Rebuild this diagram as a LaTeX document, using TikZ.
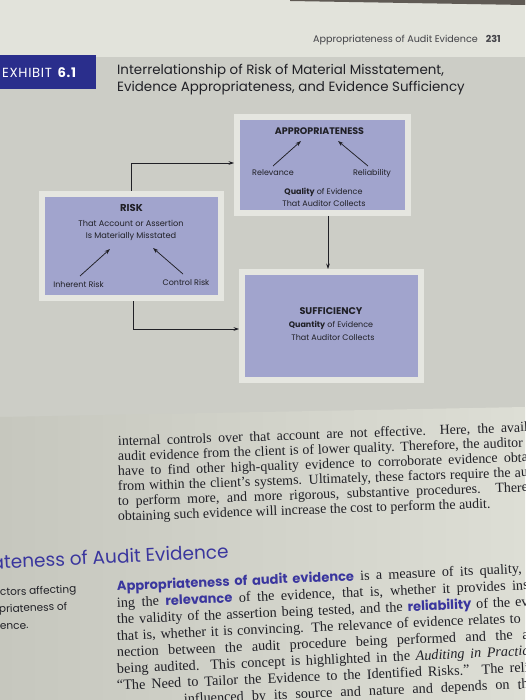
\documentclass[tikz,border=0pt]{standalone}
\usepackage{fontspec}
\setmainfont{Liberation Serif}
\newfontfamily\pop{Poppins}
\usetikzlibrary{arrows.meta,calc}
\definecolor{pagetop}{RGB}{226,227,219}
\definecolor{panelbg}{RGB}{204,205,198}
\definecolor{lowL}{RGB}{198,199,190}
\definecolor{lowR}{RGB}{221,222,213}
\definecolor{matc}{RGB}{229,230,224}
\definecolor{lav}{RGB}{161,164,205}
\definecolor{tabblue}{RGB}{42,46,140}
\definecolor{headblue}{RGB}{58,54,158}
\definecolor{ink}{RGB}{32,32,38}
\definecolor{shadowc}{RGB}{95,90,84}
\newcommand\bterm[1]{{\pop\bfseries\fontsize{13}{16}\selectfont\color{headblue}#1}}
\begin{document}
\begin{tikzpicture}[x=1pt,y=-1pt,
  box/.style={draw=matc,line width=6pt,fill=lav,inner sep=0pt,outer sep=3pt},
  lbl/.style={font=\pop\fontsize{8}{9.6}\selectfont,text=ink,inner sep=0pt},
  boxhead/.style={font=\pop\bfseries\fontsize{9.5}{11}\selectfont,text=ink,inner sep=0pt},
  conn/.style={draw=ink,line width=0.75pt,-{Stealth[length=5.5pt,width=3.8pt]}},
  bodyA/.style={font=\fontsize{13.9}{16}\selectfont,text=ink,anchor=base west,inner sep=0pt,rotate=2},
  bodyB/.style={font=\fontsize{14.2}{16}\selectfont,text=ink,anchor=base west,inner sep=0pt,rotate=2.5},
  margin/.style={font=\pop\fontsize{10.5}{12}\selectfont,text=ink,anchor=base west,inner sep=0pt,rotate=2.5},
]
\useasboundingbox (0,0) rectangle (525,700);
\clip (0,0) rectangle (525,700);
% backgrounds
\fill[pagetop] (0,0) rectangle (525,57);
\fill[shadowc] (290,0) -- (525,0) -- (525,5) -- (290,1) -- cycle;
\fill[panelbg] (0,57) rectangle (525,417);
\shade[left color=lowL,right color=lowR] (0,417) -- (525,407) -- (525,700) -- (0,700) -- cycle;
% running head
\node[anchor=west,inner sep=0pt,font=\pop\fontsize{9.6}{11}\selectfont,text=ink!85] (runhead) at (313,40) {Appropriateness of Audit Evidence\hspace{8pt}\textbf{231}};
% exhibit tab and title
\fill[tabblue] (0,55) rectangle (96,89);
\node[anchor=west,inner sep=0pt,text=white,font=\pop\fontsize{13.2}{14}\selectfont] (tab) at (2,72.5) {\addfontfeature{LetterSpace=5}EXHIBIT\hspace{5pt}\textbf{6.1}};
\node[anchor=west,inner sep=0pt,text=ink,font=\pop\fontsize{13.4}{15}\selectfont] (title1) at (117,71) {Interrelationship of Risk of Material Misstatement,};
\node[anchor=west,inner sep=0pt,text=ink,font=\pop\fontsize{13.4}{15}\selectfont] (title2) at (117,88) {Evidence Appropriateness, and Evidence Sufficiency};
% boxes
\node[box,minimum width=171pt,minimum height=96pt] (appr) at (322.5,165) {};
\node[box,minimum width=179pt,minimum height=104pt] (risk) at (131.5,246) {};
\node[box,minimum width=179pt,minimum height=108pt] (suff) at (331.5,326) {};
% appropriateness contents
\node[boxhead] (apprh) at (319.5,131) {APPROPRIATENESS};
\node[lbl] (relev) at (273,173) {Relevance};
\node[lbl] (relia) at (372,173) {Reliability};
\node[lbl] (qual) at (323.5,192) {\textbf{Quality} of Evidence};
\node[lbl] (qual2) at (324,203) {That Auditor Collects};
\coordinate (relevtail) at (273,166);
\coordinate (relevtip) at (301,141);
\coordinate (reliatail) at (368,166);
\coordinate (reliatip) at (338,141);
\draw[conn] (relevtail) -- (relevtip);
\draw[conn] (reliatail) -- (reliatip);
% risk contents
\node[boxhead,font=\pop\bfseries\fontsize{10}{11}\selectfont] (riskh) at (131.5,208) {RISK};
\node[lbl,font=\pop\fontsize{8.2}{9.6}\selectfont] (risk1) at (131,223) {That Account or Assertion};
\node[lbl,font=\pop\fontsize{8.2}{9.6}\selectfont] (risk2) at (131,236) {Is Materially Misstated};
\node[lbl] (inh) at (78.5,284) {Inherent Risk};
\node[lbl] (ctl) at (186,282) {Control Risk};
\coordinate (inhtail) at (80,276);
\coordinate (inhtip) at (110,249);
\coordinate (ctltail) at (183,274);
\coordinate (ctltip) at (153,248);
\draw[conn] (inhtail) -- (inhtip);
\draw[conn] (ctltail) -- (ctltip);
% sufficiency contents
\node[boxhead,font=\pop\bfseries\fontsize{9.7}{11}\selectfont] (suffh) at (331,311) {SUFFICIENCY};
\node[lbl] (quan) at (331,325) {\textbf{Quantity} of Evidence};
\node[lbl] (quan2) at (333,337) {That Auditor Collects};
% connectors
\draw[conn] (risk.north -| 131,0) |- (appr.west |- 0,163);
\draw[conn] (appr.south -| 328,0) -- (suff.north -| 328,0);
\draw[conn] (risk.south -| 133,0) |- (suff.west |- 0,329);
% paragraph 1
\node[bodyA] (p1a) at (118,446) {\hbox to 410pt{internal controls over that account are not effective. Here, the avail}};
\node[bodyA] (p1b) at (118,461) {\hbox to 405pt{audit evidence from the client is of lower quality. Therefore, the auditor}};
\node[bodyA] (p1c) at (118,476) {\hbox to 410pt{have to find other high-quality evidence to corroborate evidence obta}};
\node[bodyA] (p1d) at (118,491) {\hbox to 410pt{from within the client’s systems. Ultimately, these factors require the au}};
\node[bodyA] (p1e) at (118,506) {\hbox to 410pt{to perform more, and more rigorous, substantive procedures. There}};
\node[bodyA] (p1f) at (118,521) {obtaining such evidence will increase the cost to perform the audit.};
% section heading
\node[anchor=base east,inner sep=0pt,rotate=2.7,text=headblue,font=\pop\fontsize{18.5}{20}\selectfont] (sechead) at (229,558) {ateness of Audit Evidence};
% margin note
\node[margin] (m1) at (0,596) {ctors affecting};
\node[margin] (m2) at (-1,613) {priateness of};
\node[margin] (m3) at (0,630) {ence.};
% paragraph 2
\node[bodyB] (p2a) at (117,591) {\hbox to 405pt{\bterm{Appropriateness of audit evidence} is a measure of its quality,}};
\node[bodyB] (p2b) at (117,607.5) {\hbox to 412pt{ing the \bterm{relevance} of the evidence, that is, whether it provides ins}};
\node[bodyB] (p2c) at (117,624) {\hbox to 412pt{the validity of the assertion being tested, and the \bterm{reliability} of the ev}};
\node[bodyB] (p2d) at (117,640.5) {\hbox to 404pt{that is, whether it is convincing. The relevance of evidence relates to}};
\node[bodyB] (p2e) at (117,657) {\hbox to 412pt{nection between the audit procedure being performed and the a}};
\node[bodyB] (p2f) at (117,673.5) {\hbox to 412pt{being audited. This concept is highlighted in the \textit{Auditing in Practic}}};
\node[bodyB] (p2g) at (117,690) {\hbox to 412pt{“The Need to Tailor the Evidence to the Identified Risks.” The reli}};
\node[bodyB] (p2h) at (117,706.5) {\hbox to 412pt{\phantom{evidence is }influenced by its source and nature and depends on th}};
\end{tikzpicture}
\end{document}
